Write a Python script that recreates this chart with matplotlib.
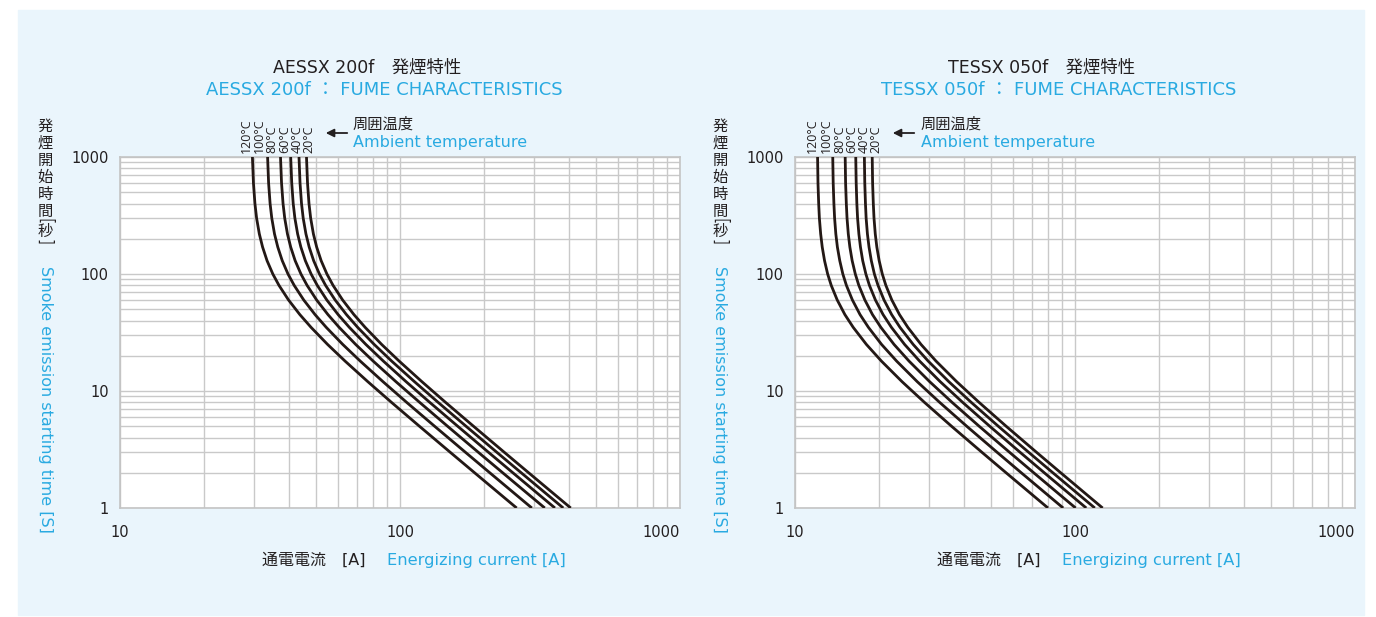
import numpy as np
import matplotlib.pyplot as plt
from matplotlib.patches import Rectangle
from matplotlib.ticker import LogLocator, NullFormatter, FixedLocator

plt.rcParams['font.family'] = ['DejaVu Sans', 'Noto Sans CJK JP']

# ===== データ =====
temps = ['120°C', '100°C', '80°C', '60°C', '40°C', '20°C']
times = [1000, 600, 400, 300, 220, 170, 130, 100, 80, 60, 45, 35, 25, 18, 12, 8, 5, 3, 2, 1]

# AESSX 200f : 通電電流 [A]（各温度）
aessx_120 = [29.71, 29.96, 30.33, 30.75, 31.45, 32.30, 33.51, 35.14, 36.96, 39.98,
             43.88, 48.12, 55.13, 63.67, 76.79, 93.22, 117.3, 151.0, 184.7, 261.0]
aessx_100 = [33.66, 33.94, 34.36, 34.84, 35.63, 36.60, 37.97, 39.81, 41.88, 45.30,
             49.72, 54.52, 62.46, 72.14, 87.00, 105.6, 132.9, 171.1, 209.3, 295.7]
aessx_80 = [37.43, 37.75, 38.22, 38.75, 39.63, 40.70, 42.22, 44.28, 46.57, 50.37,
            55.29, 60.63, 69.46, 80.22, 96.76, 117.5, 147.8, 190.2, 232.7, 328.9]
aessx_60 = [40.70, 41.05, 41.55, 42.13, 43.09, 44.25, 45.91, 48.14, 50.64, 54.77,
            60.12, 65.92, 75.53, 87.23, 105.2, 127.7, 160.7, 206.8, 253.0, 357.6]
aessx_40 = [43.58, 43.95, 44.49, 45.11, 46.14, 47.38, 49.16, 51.55, 54.22, 58.65,
            64.37, 70.59, 80.88, 93.40, 112.7, 136.8, 172.1, 221.5, 271.0, 382.9]
aessx_20 = [46.35, 46.74, 47.31, 47.97, 49.06, 50.39, 52.28, 54.82, 57.66, 62.37,
            68.45, 75.07, 86.00, 99.33, 119.8, 145.4, 183.0, 235.5, 288.1, 407.2]

# TESSX 050f
tessx_120 = [12.04, 12.08, 12.15, 12.22, 12.35, 12.51, 12.75, 13.08, 13.47, 14.15,
             15.07, 16.14, 17.99, 20.36, 24.13, 28.99, 36.22, 46.46, 56.75, 80.10]
tessx_100 = [13.64, 13.69, 13.77, 13.85, 13.99, 14.17, 14.45, 14.82, 15.26, 16.03,
             17.07, 18.29, 20.38, 23.07, 27.34, 32.85, 41.04, 52.64, 64.30, 90.75]
tessx_80 = [15.11, 15.16, 15.25, 15.34, 15.50, 15.70, 16.00, 16.42, 16.90, 17.76,
            18.91, 20.26, 22.58, 25.55, 30.28, 36.38, 45.46, 58.31, 71.22, 100.5]
tessx_60 = [16.48, 16.54, 16.63, 16.73, 16.91, 17.13, 17.45, 17.91, 18.44, 19.37,
            20.63, 22.10, 24.63, 27.87, 33.03, 39.69, 49.59, 63.60, 77.69, 109.7]
tessx_40 = [17.69, 17.75, 17.85, 17.95, 18.14, 18.38, 18.73, 19.21, 19.79, 20.79,
            22.14, 23.71, 26.43, 29.91, 35.45, 42.59, 53.21, 68.25, 83.37, 117.7]
tessx_20 = [18.87, 18.93, 19.04, 19.15, 19.35, 19.60, 19.98, 20.50, 21.11, 22.17,
            23.61, 25.29, 28.19, 31.90, 37.81, 45.43, 56.76, 72.80, 88.93, 125.5]

x_ticks = [10, 100, 1000]
y_ticks = [1, 10, 100, 1000]
ylabel_jp = ['発', '煙', '開', '始', '時', '間', '[', '秒', ']']
ylabel_jp_py = [126, 143, 160, 177, 194, 211, 221, 231, 242]

BLACK = '#231f20'
BLUE = '#29aae1'
GRID = '#c9c9c9'
JP = ['Noto Sans CJK JP', 'DejaVu Sans']

W, H = 1376, 617
fig = plt.figure(figsize=(W / 100, H / 100), dpi=100)


def fx(px):
    return px / W


def fy(py):
    return 1 - py / H


# 背景パネル
fig.patches.append(Rectangle((fx(18), fy(615)), fx(1364) - fx(18), fy(10) - fy(615),
                             transform=fig.transFigure, color='#eaf5fc', zorder=-10))


def draw_panel(dx, curves, label_px, legend_px, title_jp, title_en):
    ax = fig.add_axes([fx(120 + dx), fy(508), fx(560), 351 / H], zorder=1)
    for c in curves:
        ax.plot(c, times, color='#231815', lw=2.0, solid_capstyle='butt', zorder=3)
    ax.set_xscale('log')
    ax.set_yscale('log')
    ax.set_xlim(10, 1000)
    ax.set_ylim(1, 1000)
    ax.xaxis.set_major_locator(FixedLocator(x_ticks))
    ax.yaxis.set_major_locator(FixedLocator(y_ticks))
    ax.xaxis.set_minor_locator(LogLocator(base=10, subs=np.arange(2, 10)))
    ax.yaxis.set_minor_locator(LogLocator(base=10, subs=np.arange(2, 10)))
    ax.xaxis.set_minor_formatter(NullFormatter())
    ax.yaxis.set_minor_formatter(NullFormatter())
    ax.set_xticklabels([str(v) for v in x_ticks])
    ax.set_yticklabels([str(v) for v in y_ticks])
    ax.xaxis.get_majorticklabels()[-1].set_horizontalalignment('right')
    ax.tick_params(which='both', length=0, labelsize=10.5, colors=BLACK)
    ax.tick_params(axis='x', pad=12)
    ax.tick_params(axis='y', pad=8)
    ax.grid(True, which='both', color=GRID, lw=1.0)
    ax.set_axisbelow(True)
    ax.set_facecolor('white')
    for s in ax.spines.values():
        s.set_color('#c4c4c4')
        s.set_linewidth(1.2)

    # 温度ラベル
    for t, lp in zip(temps, label_px):
        fig.text(fx(120 + dx + lp), fy(153), t, rotation=90, ha='center', va='bottom',
                 fontsize=9, color=BLACK, family=['Open Sans', 'DejaVu Sans'])
    head, tail, txt = legend_px
    fig.add_artist(plt.Annotation('', xy=(fx(head + dx), fy(133)), xytext=(fx(tail + dx), fy(133)),
                                  xycoords='figure fraction', textcoords='figure fraction',
                                  arrowprops=dict(arrowstyle='-|>', color=BLACK, lw=1.3,
                                                  mutation_scale=12)))
    fig.text(fx(txt + dx), fy(124), '周囲温度', ha='left', va='center', fontsize=11,
             color=BLACK, family=JP)
    fig.text(fx(txt + dx), fy(143), 'Ambient temperature', ha='left', va='center',
             fontsize=11.5, color=BLUE)

    # タイトル
    fig.text(fx(273 + dx), fy(67), title_jp, ha='left', va='center', fontsize=12.5, color=BLACK)
    fig.text(fx(206 + dx), fy(90), title_en, ha='left', va='center', fontsize=13, color=BLUE)

    # 軸ラベル
    fig.text(fx(262 + dx), fy(560), '通電電流　[A]', ha='left', va='center', fontsize=11.5, color=BLACK)
    fig.text(fx(387 + dx), fy(560), 'Energizing current [A]', ha='left', va='center',
             fontsize=11.7, color=BLUE)
    for ch, py in zip(ylabel_jp, ylabel_jp_py):
        rot = 270 if ch in '[]' else 0
        fig.text(fx(45 + dx), fy(py), ch, ha='center', va='center', rotation=rot,
                 fontsize=11, color=BLACK, family=JP)
    fig.text(fx(45 + dx), fy(266), 'Smoke emission starting time [S]', ha='center', va='top',
             rotation=270, fontsize=11.5, color=BLUE)
    return ax


draw_panel(0, [aessx_120, aessx_100, aessx_80, aessx_60, aessx_40, aessx_20],
           [126, 139, 152, 165, 177, 189], (323, 350, 353),
           'AESSX 200f　発煙特性', 'AESSX 200f ： FUME CHARACTERISTICS')
draw_panel(675, [tessx_120, tessx_100, tessx_80, tessx_60, tessx_40, tessx_20],
           [17, 31, 45, 57, 69, 81], (215, 242, 246),
           'TESSX 050f　発煙特性', 'TESSX 050f ： FUME CHARACTERISTICS')

fig.savefig('out.png', dpi=100)
